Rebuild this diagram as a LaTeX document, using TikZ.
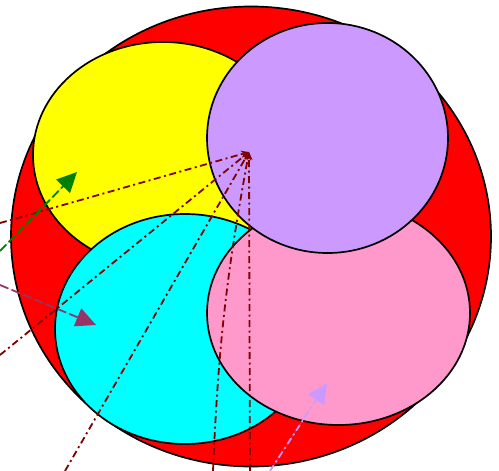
\documentclass[tikz,border=0pt]{standalone}
\usepackage{tikz}
\usetikzlibrary{arrows.meta}
\definecolor{fillRed}{RGB}{255, 0, 0}
\definecolor{fillYellow}{RGB}{255, 255, 0}
\definecolor{fillCyan}{RGB}{0, 255, 255}
\definecolor{fillPink}{RGB}{255, 153, 204}
\definecolor{fillLilac}{RGB}{204, 153, 255}
\definecolor{rayclr}{RGB}{128, 0, 0}
\definecolor{grnclr}{RGB}{0, 128, 0}
\definecolor{plumclr}{RGB}{153, 51, 102}
\tikzset{
  % Ellipslar
  blob/.style     = {draw=black, line width=1.7pt},
  % Nurlar
  ray/.style      = {draw=rayclr, line width=1.8pt,
                     dash pattern=on 7pt off 3.5pt on 2pt off 3.5pt,
                     -{Stealth[length=8pt,width=7pt]}},
  % Katta o'qlar
  bigtip/.style   = {-{Triangle[length=20pt,width=19pt]}},
  grnarrow/.style = {bigtip, draw=grnclr, fill=grnclr, line width=1.8pt,
                     dash pattern=on 9pt off 3.5pt},
  plumarrow/.style= {bigtip, draw=plumclr, fill=plumclr, line width=1.8pt,
                     dash pattern=on 9pt off 3.5pt},
  lilacarrow/.style={bigtip, draw=fillLilac, fill=fillLilac, line width=1.8pt,
                     dash pattern=on 7pt off 3.5pt on 2pt off 3.5pt},
}
\begin{document}
\begin{tikzpicture}[x=1pt, y=-1pt]
  \useasboundingbox (0,0) rectangle (499,471);
  % Ellipslar
  \draw[blob, fill=fillRed]    (251,236.5) ellipse [x radius=240, y radius=230];
  \draw[blob, fill=fillYellow] (163,155)   ellipse [x radius=130, y radius=113];
  \draw[blob, fill=fillCyan]   (185,329)   ellipse [x radius=130, y radius=115];
  \draw[blob, fill=fillPink]   (338.5,313) ellipse [x radius=131.5, y radius=112];
  \draw[blob, fill=fillLilac]  (327.5,138) ellipse [x radius=120.5, y radius=115];
  % Nuqtalar
  \coordinate (hub) at (249,152);
  \coordinate (rayA) at (0,223);
  \coordinate (rayB) at (0,355);
  \coordinate (rayC) at (65,471);
  \coordinate (rayD) at (213,471);
  \coordinate (rayE) at (250,471);
  \coordinate (grnS) at (0,251);
  \coordinate (grnT) at (77,172);
  \coordinate (plumS) at (0,285);
  \coordinate (plumT) at (96,325);
  \coordinate (lilS) at (270,471);
  \coordinate (lilT) at (327,383);
  % Nurlar
  \draw[ray] (rayA) -- (hub);
  \draw[ray] (rayB) -- (hub);
  \draw[ray] (rayC) -- (hub);
  \draw[ray] (rayD) to[bend left=4] (hub);
  \draw[ray] (rayE) -- (hub);
  % Rangli o'qlar
  \draw[grnarrow] (grnS) -- (grnT);
  \draw[plumarrow] (plumS) -- (plumT);
  \draw[lilacarrow] (lilS) -- (lilT);
\end{tikzpicture}
\end{document}
